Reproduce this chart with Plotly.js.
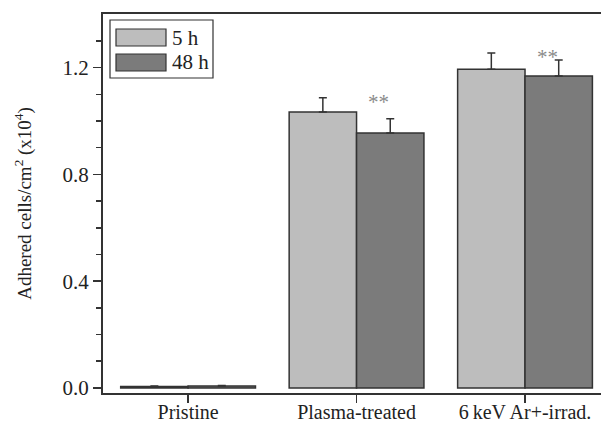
<!DOCTYPE html>
<html><head><meta charset="utf-8">
<script src="https://cdn.plot.ly/plotly-3.0.1.min.js"></script>
<style>html,body{margin:0;padding:0;background:#fff}#c{width:601px;height:423px}</style>
</head><body><div id="c"></div>
<script>
const categories = ["Pristine", "Plasma-treated", "6\u2009keV Ar+-irrad."];
const seriesNames = ["5 h", "48 h"];
const values5h = [0.005, 1.034, 1.194];
const errors5h = [0.002, 0.053, 0.061];
const values48h = [0.0075, 0.955, 1.169];
const errors48h = [0.002, 0.054, 0.060];
const significance = ["", "**", "**"];
const colors = ["#bdbdbd", "#7b7b7b"];

const L = 103, R = 601, T = 14, B = 393, W = 601, H = 423;
const px = x => (x - L) / (R - L);
const py = y => (B - y) / (B - T);

function mk(name, v, e, col) {
  return {type: "bar", name: name, x: categories, y: v,
    marker: {color: col, line: {color: "#333", width: 1.5}},
    error_y: {type: "data", symmetric: false, array: e, arrayminus: v.map(() => 0),
      color: "#333", thickness: 1.5, width: 4},
    showlegend: false, hoverinfo: "skip"};
}
const traces = [mk(seriesNames[0], values5h, errors5h, colors[0]),
                mk(seriesNames[1], values48h, errors48h, colors[1])];

const annotations = [];
significance.forEach((s, i) => {
  if (!s) return;
  const top = Math.max(values5h[i] + errors5h[i], values48h[i] + errors48h[i]);
  annotations.push({x: i, y: top, xref: "x", yref: "y", text: s, showarrow: false,
    xshift: 22, yshift: -4, yanchor: "middle",
    font: {family: "Liberation Serif", size: 21, color: "#8a8a8a"}});
});

// legend (manual)
const shapes = [
  {type: "rect", xref: "paper", yref: "paper", x0: px(110), x1: px(213), y0: py(78), y1: py(20),
   line: {color: "#333", width: 1.2}, fillcolor: "#fff"},
  {type: "rect", xref: "paper", yref: "paper", x0: px(116), x1: px(166), y0: py(46), y1: py(29),
   line: {color: "#333", width: 1.2}, fillcolor: colors[0]},
  {type: "rect", xref: "paper", yref: "paper", x0: px(116), x1: px(166), y0: py(71), y1: py(54),
   line: {color: "#333", width: 1.2}, fillcolor: colors[1]}
];
seriesNames.forEach((n, k) => {
  annotations.push({xref: "paper", yref: "paper", x: px(170), y: py(k === 0 ? 37.5 : 62.5),
    xanchor: "left", yanchor: "middle", text: n, showarrow: false,
    font: {family: "Liberation Serif", size: 21, color: "#222"}});
});

const layout = {
  width: W, height: H,
  margin: {l: L, r: W - R, t: T, b: H - B, pad: 0},
  paper_bgcolor: "#fff", plot_bgcolor: "#fff",
  barmode: "group", bargap: 0.2, bargroupgap: 0,
  font: {family: "Liberation Serif", color: "#222", size: 20},
  xaxis: {type: "category", range: [-0.505, 2.451], showline: true, linecolor: "#333", linewidth: 2,
    mirror: true, ticks: "outside", ticklen: 8, tickwidth: 1.5, tickcolor: "#333",
    showgrid: false, zeroline: false, tickfont: {size: 20}, ticklabelstandoff: -8},
  yaxis: {range: [-0.019, 1.401], tickvals: [0, 0.4, 0.8, 1.2], ticktext: ["0.0", "0.4", "0.8", "1.2"],
    showline: true, linecolor: "#333", linewidth: 2, ticks: "outside", ticklen: 8, tickwidth: 1.5,
    tickcolor: "#333", showgrid: false, zeroline: false, tickfont: {size: 21},
    minor: {tickvals: [0.1, 0.2, 0.3, 0.5, 0.6, 0.7, 0.9, 1.0, 1.1, 1.3], ticks: "outside", ticklen: 5,
      tickcolor: "#333", tickwidth: 1.5},
    title: {text: "Adhered cells/cm<sup>2</sup> (x10<sup>4</sup>)", font: {size: 19}, standoff: 26}},
  shapes: shapes, annotations: annotations
};
Plotly.newPlot("c", traces, layout, {displayModeBar: false, staticPlot: true});
</script></body></html>
